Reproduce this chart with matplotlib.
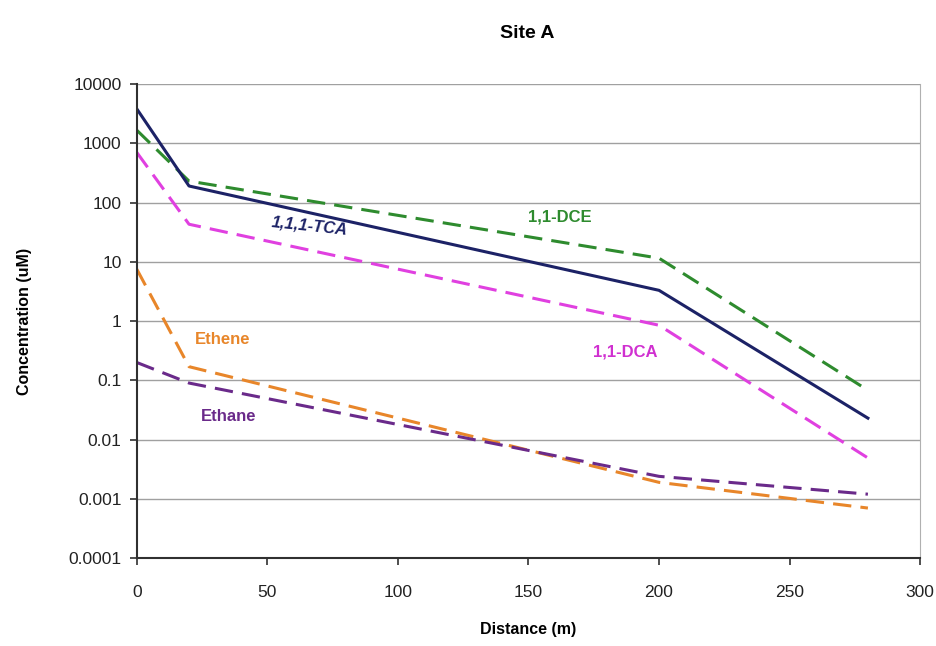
import matplotlib
matplotlib.use("Agg")
import matplotlib.pyplot as plt
from matplotlib.ticker import FixedLocator, FixedFormatter, NullLocator

plt.rcParams['font.family'] = ['Liberation Sans', 'DejaVu Sans']

distance = [0, 20, 200, 280]
tca = [3800, 190, 3.3, 0.023]
dce = [1660, 230, 11.5, 0.068]
dca = [700, 43, 0.85, 0.0049]
ethene = [7.5, 0.17, 0.0019, 0.0007]
ethane = [0.2, 0.09, 0.0024, 0.0012]

y_ticks = [0.0001, 0.001, 0.01, 0.1, 1, 10, 100, 1000, 10000]
y_labels = ["0.0001", "0.001", "0.01", "0.1", "1", "10", "100", "1000", "10000"]
x_ticks = [0, 50, 100, 150, 200, 250, 300]

fig = plt.figure(figsize=(9.37, 6.46), dpi=100)
ax = fig.add_axes([0.146, 0.136, 0.836, 0.734])

dash = (0, (6, 3))
ax.plot(distance, dce, color='#2e8b2e', lw=2.2, ls=dash)
ax.plot(distance, tca, color='#1c2266', lw=2.2, ls='-')
ax.plot(distance, dca, color='#e040e0', lw=2.2, ls=dash)
ax.plot(distance, ethene, color='#e8862a', lw=2.2, ls=dash)
ax.plot(distance, ethane, color='#6a2a8a', lw=2.2, ls=dash)

ax.set_yscale('log')
ax.set_xlim(0, 300)
ax.set_ylim(0.0001, 10000)
ax.yaxis.set_major_locator(FixedLocator(y_ticks))
ax.yaxis.set_major_formatter(FixedFormatter(y_labels))
ax.yaxis.set_minor_locator(NullLocator())
ax.set_xticks(x_ticks)
ax.set_xticklabels([str(v) for v in x_ticks])

ax.grid(axis='y', color='#a0a0a0', lw=1)
ax.set_axisbelow(True)
ax.spines['right'].set_color('#b0b0b0')
ax.spines['right'].set_linewidth(0.8)
ax.spines['top'].set_visible(False)
for s in ['left', 'bottom']:
    ax.spines[s].set_color('#303030')
    ax.spines[s].set_linewidth(1.5)
ax.tick_params(axis='both', direction='out', length=5, width=1.2, color='#303030',
               labelsize=12.5, labelcolor='#222222')
ax.tick_params(axis='y', pad=6)
ax.tick_params(axis='x', pad=14)

ax.set_xlabel('Distance (m)', fontsize=11.5, fontweight='bold', labelpad=16)
ax.set_ylabel('Concentration (uM)', fontsize=11.5, fontweight='bold', labelpad=26)
fig.suptitle('Site A', x=0.563, y=0.962, fontsize=14, fontweight='bold')

ax.text(66, 40, '1,1,1-TCA', color='#1c2266', fontsize=12, fontweight='bold',
        style='italic', ha='center', va='center', rotation=-6)
ax.text(162, 57, '1,1-DCE', color='#2e8b2e', fontsize=12, fontweight='bold',
        ha='center', va='center')
ax.text(187, 0.3, '1,1-DCA', color='#d030d0', fontsize=12, fontweight='bold',
        ha='center', va='center')
ax.text(33, 0.48, 'Ethene', color='#e8862a', fontsize=12, fontweight='bold',
        ha='center', va='center')
ax.text(35, 0.025, 'Ethane', color='#6a2a8a', fontsize=12, fontweight='bold',
        ha='center', va='center')

fig.savefig('out.png', dpi=100)
